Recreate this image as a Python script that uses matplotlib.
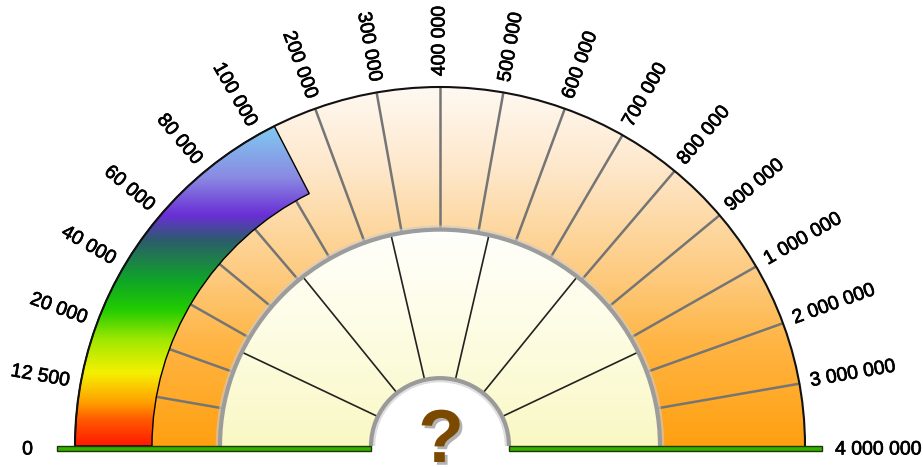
import numpy as np
import matplotlib
matplotlib.use("Agg")
import matplotlib.pyplot as plt
from matplotlib.patches import Wedge, Arc, Rectangle
from matplotlib.colors import LinearSegmentedColormap
import matplotlib.patheffects as pe

## data
tick_values = [0, 12500, 20000, 40000, 60000, 80000, 100000,
               200000, 300000, 400000, 500000, 600000, 700000, 800000, 900000,
               1000000, 2000000, 3000000, 4000000]
current_value = 130000
inner_sections = 7
center_text = "?"

## geometry (radius 1 = outer edge)
r_out = 1.0
r_bar = 288 / 365
r_mid = 220 / 365
r_hole = 69 / 365
n_seg = len(tick_values) - 1
step = 180.0 / n_seg


def value_to_angle(v):
    idx = np.interp(v, tick_values, np.arange(len(tick_values)))
    return 180 - idx * step


fig = plt.figure(figsize=(9.23, 4.67), dpi=100)
ax = fig.add_axes([0, 0, 1, 1])
ax.axis("off")

grad = np.linspace(0, 1, 256).reshape(-1, 1)

# outer band
outer_cmap = LinearSegmentedColormap.from_list("outer", [
    (0.0, "#ffa010"), (0.29, "#ffb545"), (0.45, "#fdc878"),
    (0.78, "#fee8cc"), (1.0, "#fff9f2")])
w = Wedge((0, 0), r_out, 0, 180, width=r_out - r_mid, transform=ax.transData,
          facecolor="none", edgecolor="none")
ax.add_patch(w)
im = ax.imshow(grad, extent=[-1, 1, 0, 1], origin="lower", cmap=outer_cmap,
               aspect="auto", zorder=1)
im.set_clip_path(w)

for i in range(1, n_seg):
    th = np.radians(180 - i * step)
    ax.plot([r_mid * np.cos(th), r_out * np.cos(th)],
            [r_mid * np.sin(th), r_out * np.sin(th)],
            color="#757575", lw=1.8, zorder=2, solid_capstyle="butt")

# progress bar
bar_cmap = LinearSegmentedColormap.from_list("bar", [
    (0.0, "#ff1a00"), (0.072, "#ff5a00"), (0.12, "#ffa000"), (0.203, "#f5f000"),
    (0.295, "#a0e800"), (0.379, "#22cc00"), (0.462, "#0fa528"), (0.574, "#2c5c6c"),
    (0.643, "#6a2ed6"), (0.749, "#8a8ae2"), (0.886, "#80c8f0"), (1.0, "#80d0f4")])
a_end = value_to_angle(current_value)
wb = Wedge((0, 0), r_out, a_end, 180, width=r_out - r_bar, transform=ax.transData,
           facecolor="none", edgecolor="black", lw=1.0, zorder=4)
ax.add_patch(wb)
im2 = ax.imshow(grad, extent=[-1, 1, 0, 1], origin="lower", cmap=bar_cmap,
                aspect="auto", zorder=3)
im2.set_clip_path(wb)

ax.add_patch(Arc((0, 0), 2 * r_out, 2 * r_out, theta1=0, theta2=180,
                 color="#111111", lw=1.5, zorder=5))

# inner area
inner_cmap = LinearSegmentedColormap.from_list("inner", [
    (0.0, "#f9f8c4"), (0.6, "#fefde8"), (1.0, "#fffffc")])
wi = Wedge((0, 0), r_mid, 0, 180, width=r_mid - r_hole, transform=ax.transData,
           facecolor="none", edgecolor="none")
ax.add_patch(wi)
im3 = ax.imshow(grad, extent=[-1, 1, 0, r_mid], origin="lower", cmap=inner_cmap,
                aspect="auto", zorder=5)
im3.set_clip_path(wi)

for k in range(1, inner_sections):
    th = np.radians(k * 180.0 / inner_sections)
    ax.plot([r_hole * np.cos(th), r_mid * np.cos(th)],
            [r_hole * np.sin(th), r_mid * np.sin(th)],
            color="#222222", lw=1.2, zorder=6)

ax.add_patch(Arc((0, 0), 2 * r_mid + 0.012, 2 * r_mid + 0.012, theta1=0, theta2=180,
                 color="#cccccc", lw=3, zorder=7, alpha=0.6))
ax.add_patch(Arc((0, 0), 2 * r_mid, 2 * r_mid, theta1=0, theta2=180,
                 color="#9c9c9c", lw=3, zorder=7))

# hole
ax.add_patch(Wedge((0, 0), r_hole, 0, 180, facecolor="white", edgecolor="none", zorder=8))
ax.add_patch(Arc((0, 0), 2 * r_hole - 0.012, 2 * r_hole - 0.012, theta1=0, theta2=180,
                 color="#d0d0d0", lw=3, zorder=9, alpha=0.7))
ax.add_patch(Arc((0, 0), 2 * r_hole, 2 * r_hole, theta1=0, theta2=180,
                 color="#9a9a9a", lw=3, zorder=9))

# base line
bh = 5 / 359
ax.add_patch(Rectangle((-1.049, -bh), 1.049 - r_hole, bh, facecolor="#33b000",
                       edgecolor="#1a3a00", lw=1, zorder=10))
ax.add_patch(Rectangle((r_hole, -bh), 1.047 - r_hole, bh, facecolor="#33b000",
                       edgecolor="#1a3a00", lw=1, zorder=10))

ax.text(0.003, -16 / 359, center_text, fontsize=54, fontweight="bold",
        family="Liberation Sans", color="#7b4a00", ha="center", va="baseline", zorder=11,
        path_effects=[pe.withSimplePatchShadow(offset=(2, -2), shadow_rgbFace="#666666", alpha=0.5)])

# tick labels
for i, val in enumerate(tick_values):
    th = 180 - i * step
    label = f"{val:,}".replace(",", " ")
    dy = 0
    if i == 0:
        gap, dy = 42, -4 / 359
    elif i == n_seg:
        gap, dy = 30, -4 / 359
    else:
        gap = 11
    r = r_out + gap / 365
    x = r * np.cos(np.radians(th))
    y = r * np.sin(np.radians(th)) + dy
    if th > 90:
        rot, ha = th - 180, "right"
    else:
        rot, ha = th, "left"
    ax.text(x, y, label, fontsize=14, family="Liberation Sans", color="black",
            rotation=rot, rotation_mode="anchor", ha=ha, va="center", zorder=12,
            path_effects=[pe.withStroke(linewidth=0.5, foreground="black")])

ax.set_xlim(-440 / 365, 483 / 365)
ax.set_ylim(-21 / 359, 446 / 359)
fig.savefig("out.png", dpi=100)
